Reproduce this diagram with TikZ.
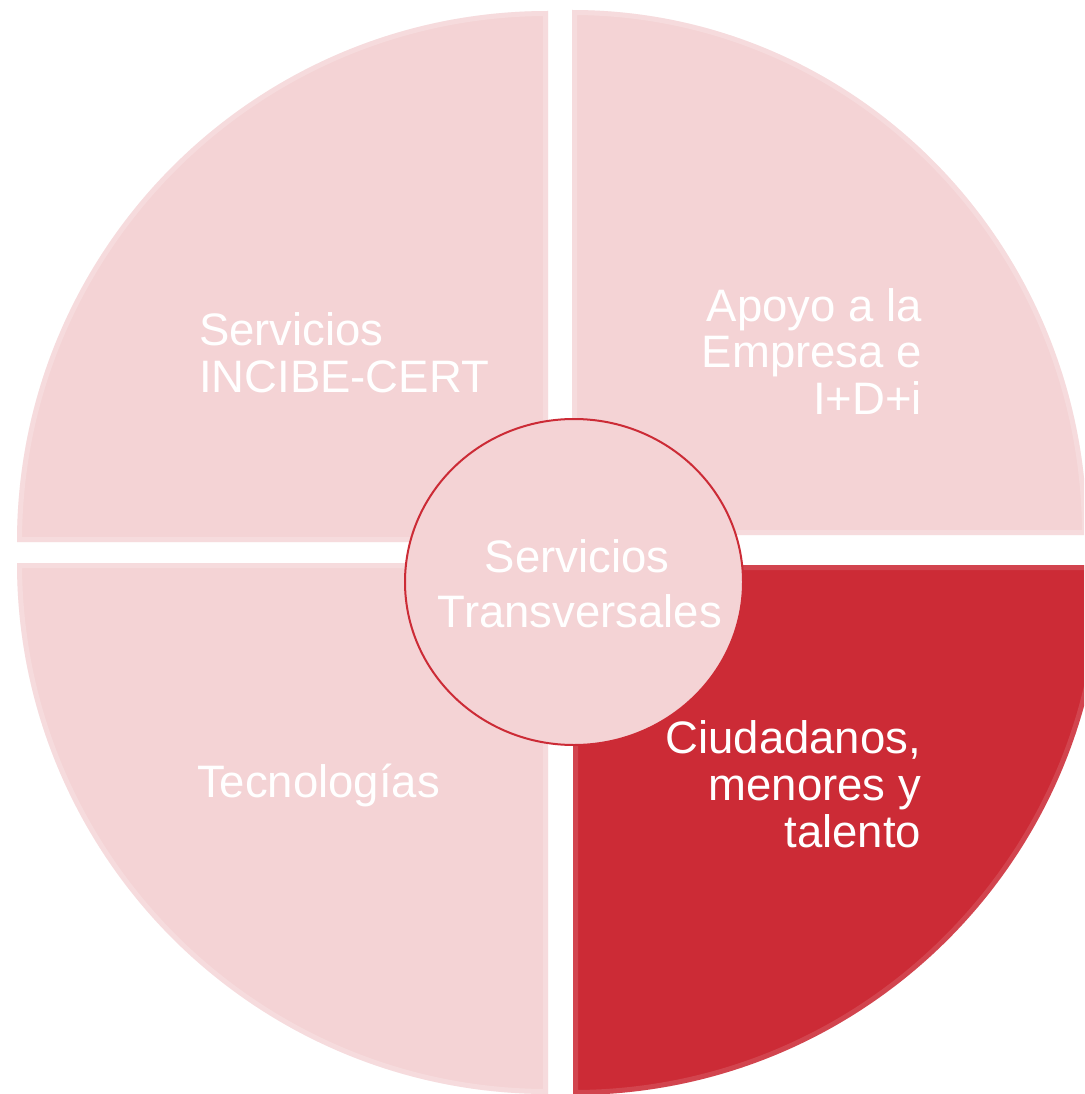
\documentclass[tikz,border=0pt]{standalone}
\usepackage{fontspec}
\setmainfont{Liberation Sans}
\usetikzlibrary{shapes.geometric}
\definecolor{segpink}{RGB}{244,211,213}
\definecolor{segred}{RGB}{204,43,54}
\begin{document}
\begin{tikzpicture}[x=1pt,y=-1pt,
  lbl/.style={text=white,font=\fontsize{45.5}{47}\selectfont,inner sep=0pt,outer sep=0pt},
  bevel/.style={draw=white,line width=10pt,opacity=#1},
  bevel/.default=0.2
]
\useasboundingbox (0,0) rectangle (1084,1094);
\clip (0,0) rectangle (1084,1094);
\fill[white] (0,0) rectangle (1084,1094);

% top-left quadrant
\fill[segpink] (548,542) -- (17,542) arc[start angle=180,end angle=270,radius=531] -- cycle;
\begin{scope}
  \clip (548,542) -- (17,542) arc[start angle=180,end angle=270,radius=531] -- cycle;
  \path[bevel=0.2] (548,542) -- (17,542) arc[start angle=180,end angle=270,radius=531] -- cycle;
\end{scope}

% top-right quadrant
\fill[segpink] (572,535) -- (572,10) arc[start angle=270,end angle=360,x radius=515,y radius=525] -- cycle;
\begin{scope}
  \clip (572,535) -- (572,10) arc[start angle=270,end angle=360,x radius=515,y radius=525] -- cycle;
  \path[bevel=0.2] (572,535) -- (572,10) arc[start angle=270,end angle=360,x radius=515,y radius=525] -- cycle;
\end{scope}

% bottom-right quadrant (highlighted)
\fill[segred] (573,565) -- (1103,565) arc[start angle=0,end angle=90,radius=530] -- cycle;
\begin{scope}
  \clip (573,565) -- (1103,565) arc[start angle=0,end angle=90,radius=530] -- cycle;
  \path[bevel=0.12] (573,565) -- (1103,565) arc[start angle=0,end angle=90,radius=530] -- cycle;
\end{scope}

% bottom-left quadrant
\fill[segpink] (548,563) -- (548,1094) arc[start angle=90,end angle=180,radius=531] -- cycle;
\begin{scope}
  \clip (548,563) -- (548,1094) arc[start angle=90,end angle=180,radius=531] -- cycle;
  \path[bevel=0.2] (548,563) -- (548,1094) arc[start angle=90,end angle=180,radius=531] -- cycle;
\end{scope}

% centre ellipse
\node[ellipse,draw=segred,line width=2pt,fill=segpink,minimum width=338pt,minimum height=326pt,inner sep=0pt] (hub) at (574,582) {};

% labels
\node[lbl,anchor=base west] (tl1) at (199,345) {Servicios};
\node[lbl,anchor=base west] (tl2) at (199,392) {INCIBE-CERT};

\node[lbl,anchor=base east] (tr1) at (922,321) {Apoyo a la};
\node[lbl,anchor=base east] (tr2) at (922,367) {Empresa e};
\node[lbl,anchor=base east] (tr3) at (922,414) {I+D+i};

\node[lbl,anchor=base] (c1) at (577,572) {Servicios};
\node[lbl,anchor=base] (c2) at (580,627) {Transversales};

\node[lbl,anchor=base west] (bl1) at (197,797) {Tecnologías};

\node[lbl,anchor=base east] (br1) at (921,753) {Ciudadanos,};
\node[lbl,anchor=base east] (br2) at (921,800) {menores y};
\node[lbl,anchor=base east] (br3) at (921,847) {talento};
\end{tikzpicture}
\end{document}
